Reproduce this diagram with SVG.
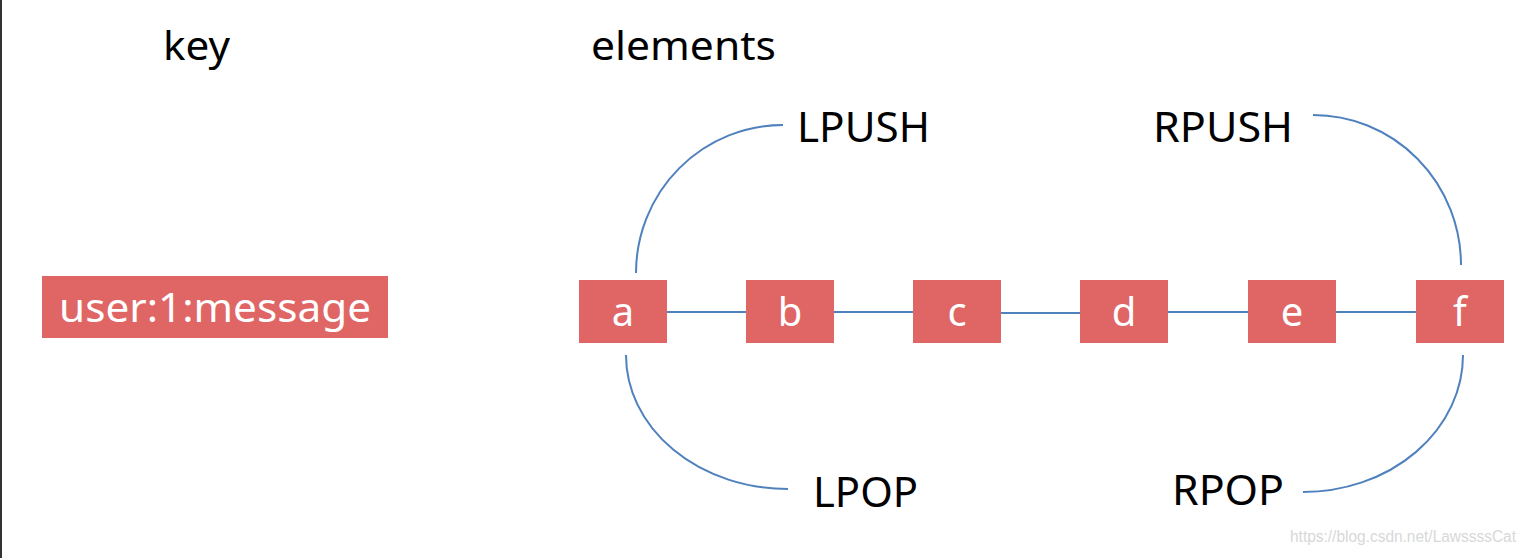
<svg xmlns="http://www.w3.org/2000/svg" width="1534" height="558" viewBox="0 0 1534 558">
<style>
.lbl{font-family:"Noto Sans","Open Sans","Liberation Sans",sans-serif;fill:#000;font-size:40px}
.op{font-family:"Noto Sans","Open Sans","Liberation Sans",sans-serif;fill:#000;font-size:42px}
.box{fill:#e06666}
.bt{font-family:"Noto Sans","Open Sans","Liberation Sans",sans-serif;fill:#fff;font-size:40px;text-anchor:middle}
.ln{stroke:#4f81bd;stroke-width:2;fill:none}
</style>
<rect x="0" y="0" width="1534" height="558" fill="#fff"/>
<line x1="1" y1="0" x2="1" y2="558" stroke="#333" stroke-width="2"/>
<text class="lbl" x="163" y="60" textLength="67" lengthAdjust="spacingAndGlyphs">key</text>
<text class="lbl" x="591" y="60" textLength="185" lengthAdjust="spacingAndGlyphs">elements</text>
<g id="key">
<rect class="box" x="42" y="276" width="346" height="62"/>
<text class="bt" x="215" y="322" textLength="312" lengthAdjust="spacingAndGlyphs">user:1:message</text>
</g>
<g id="connectors">
<line class="ln" x1="667" y1="312" x2="746" y2="312"/>
<line class="ln" x1="834" y1="312" x2="913" y2="312"/>
<line class="ln" x1="1001" y1="313" x2="1080" y2="313"/>
<line class="ln" x1="1168" y1="312" x2="1248" y2="312"/>
<line class="ln" x1="1336" y1="312" x2="1416" y2="312"/>
<path class="ln" d="M636,273 A147,148 0 0 1 783,125"/>
<path class="ln" d="M1313,115 A148,150 0 0 1 1461,265"/>
<path class="ln" d="M626,355 A162,134 0 0 0 788,489"/>
<path class="ln" d="M1463,355 A160,137 0 0 1 1303,492"/>
</g>
<g id="node-a"><rect class="box" x="579" y="280" width="88" height="63"/><text class="bt" x="623" y="326">a</text></g>
<g id="node-b"><rect class="box" x="746" y="280" width="88" height="63"/><text class="bt" x="790" y="326">b</text></g>
<g id="node-c"><rect class="box" x="913" y="280" width="88" height="63"/><text class="bt" x="957" y="326">c</text></g>
<g id="node-d"><rect class="box" x="1080" y="280" width="88" height="63"/><text class="bt" x="1124" y="326">d</text></g>
<g id="node-e"><rect class="box" x="1248" y="280" width="88" height="63"/><text class="bt" x="1292" y="326">e</text></g>
<g id="node-f"><rect class="box" x="1416" y="280" width="88" height="63"/><text class="bt" x="1460" y="326">f</text></g>
<g id="lpush"><text class="op" x="797" y="142" textLength="133" lengthAdjust="spacingAndGlyphs">LPUSH</text></g>
<g id="rpush"><text class="op" x="1153" y="142" textLength="140" lengthAdjust="spacingAndGlyphs">RPUSH</text></g>
<g id="lpop"><text class="op" x="813" y="507" textLength="105" lengthAdjust="spacingAndGlyphs">LPOP</text></g>
<g id="rpop"><text class="op" x="1172" y="505" textLength="112" lengthAdjust="spacingAndGlyphs">RPOP</text></g>
<text x="1290" y="542" font-family="Liberation Sans, sans-serif" font-size="16" fill="#d8d8d8" textLength="226" lengthAdjust="spacingAndGlyphs">https://blog.csdn.net/LawssssCat</text>
</svg>
